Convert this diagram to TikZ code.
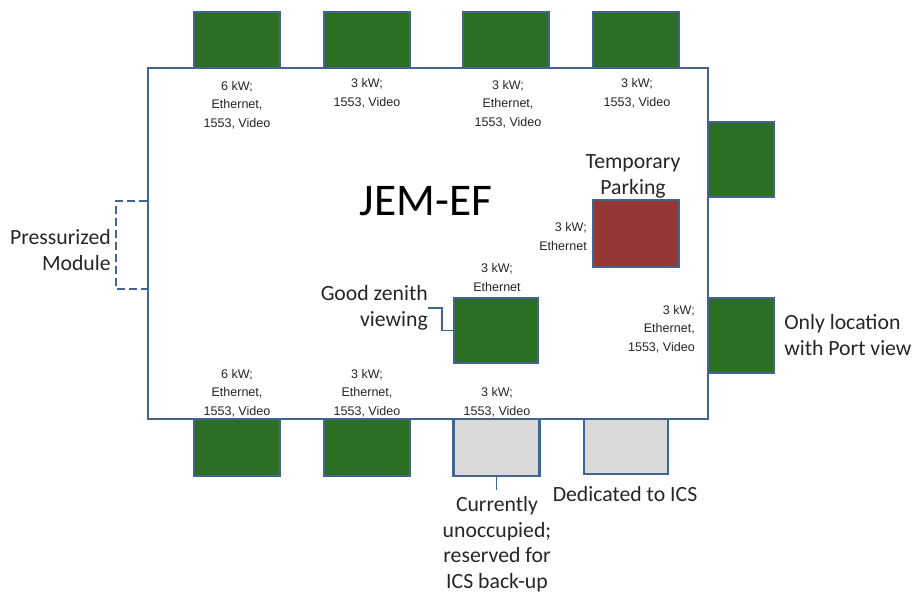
\documentclass[tikz,border=0pt]{standalone}
\usepackage{fontspec}
\setmainfont{Carlito}
\newfontfamily\arialf{Liberation Sans}
\usetikzlibrary{positioning}

\definecolor{bayedge}{RGB}{65,100,145}
\definecolor{baygreen}{RGB}{44,111,36}
\definecolor{bayred}{RGB}{149,55,53}
\definecolor{baygray}{RGB}{217,217,217}

\begin{document}
\begin{tikzpicture}[x=0.75pt, y=-0.75pt,
    bay/.style={draw=bayedge, line width=1.6pt, inner sep=0pt},
    topbay/.style={bay, fill=baygreen, minimum width=64.5pt, minimum height=42pt},
    botbay/.style={bay, minimum width=64.5pt, minimum height=42.75pt},
    sidebay/.style={bay, fill=baygreen, minimum width=49.5pt, minimum height=56.25pt},
    spec/.style={align=center, inner sep=0pt, text=black!85,
      font=\arialf\fontsize{9.4}{13.9}\selectfont},
    note/.style={align=center, inner sep=0pt, text=black!85,
      font=\fontsize{16.3}{19.5}\selectfont},
    lead/.style={draw=bayedge, line width=0.8pt}]
  \useasboundingbox (0,0) rectangle (912,594);

  % bays round the facility
  \node[topbay] (t1) at (237,40) {};
  \node[topbay] (t2) at (367,40) {};
  \node[topbay] (t3) at (506,40) {};
  \node[topbay] (t4) at (636,40) {};
  \node[sidebay] (r1) at (741,159.5) {};
  \node[sidebay] (r2) at (741,335.5) {};
  \node[botbay, fill=baygreen] (b1) at (237,447.5) {};
  \node[botbay, fill=baygreen] (b2) at (367,447.5) {};
  \node[botbay, fill=baygray] (spare) at (496.5,447.5) {};
  \node[botbay, fill=baygray, minimum width=63pt, minimum height=41.25pt] (ics) at (626,446.5) {};

  % exposed facility
  \node[bay, line width=1.8pt, fill=white, minimum width=420pt,
    minimum height=263.25pt] (ef) at (428,243.5) {};
  \node[font=\fontsize{34}{40}\selectfont, inner sep=0pt] (eflbl) at (426,201) {JEM-EF};

  \node[bay, fill=bayred, minimum width=64.5pt, minimum height=50.25pt] (park) at (636,233.5) {};
  \node[bay, fill=baygreen, minimum width=63pt, minimum height=48.75pt] (zen) at (496,330.5) {};

  % port specs
  \node[spec] (t1spec) at (237,105) {6 kW;\\Ethernet,\\1553, Video};
  \node[spec] (t2spec) at (367,93) {3 kW;\\1553, Video};
  \node[spec] (t3spec) at (508,104) {3 kW;\\Ethernet,\\1553, Video};
  \node[spec] (t4spec) at (637,93) {3 kW;\\1553, Video};
  \node[spec, align=right, anchor=east] (parkspec) at (587,236.5) {3 kW;\\Ethernet};
  \node[spec] (zenspec) at (497,277.5) {3 kW;\\Ethernet};
  \node[spec, align=right, anchor=east] (r2spec) at (695,329) {3 kW;\\Ethernet,\\1553, Video};
  \node[spec] (b1spec) at (237,393) {6 kW;\\Ethernet,\\1553, Video};
  \node[spec] (b2spec) at (367,393) {3 kW;\\Ethernet,\\1553, Video};
  \node[spec] (sparespec) at (497,402) {3 kW;\\1553, Video};

  % notes
  \node[note] (parklbl) at (633,176) {Temporary\\Parking};
  \node[note, align=right, anchor=east] (pmlbl) at (111,250) {Pressurized\\Module};
  \node[note, align=right, anchor=east] (zenlbl) at (428,308) {Good zenith\\viewing};
  \node[note, align=left, anchor=west] (portlbl) at (784,335) {Only location\\with Port view};
  \node[note] (icslbl) at (625,494) {Dedicated to ICS};
  \node[note, font=\fontsize{16.3}{19.2}\selectfont] (sparelbl) at (497,544) {Currently\\unoccupied;\\reserved for\\ICS back-up};

  % pressurized module outline
  \coordinate (pmtop) at (ef.west |- 0,201);
  \coordinate (pmbot) at (ef.west |- 0,289);
  \draw[draw=bayedge, line width=1.6pt, dash pattern=on 6pt off 3pt]
    (pmtop) -- ++(-31,0) |- (pmbot);

  \draw[lead] (zenlbl.east) -- ++(14,0) |- (zen.west);
  \draw[lead] (spare.south) -- ++(0,13);
\end{tikzpicture}
\end{document}
